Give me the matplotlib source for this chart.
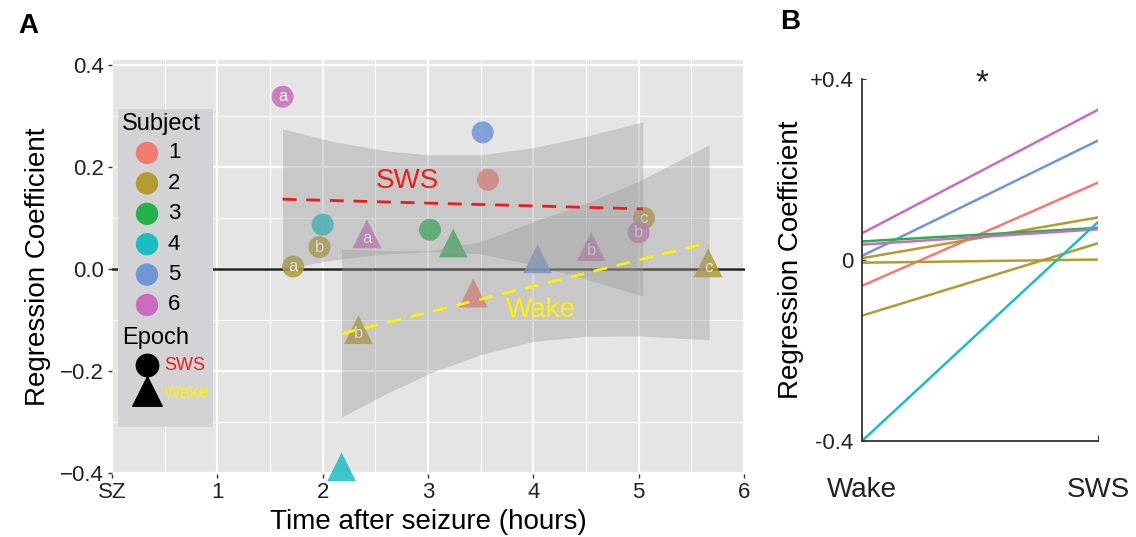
import numpy as np
import matplotlib.pyplot as plt
from matplotlib.patches import Rectangle

plt.rcParams['font.family'] = ['Liberation Sans', 'DejaVu Sans']

# subject colours, 1..6 (muted ggplot-like hues)
subj_colors = ["#F37A70", "#B39B30", "#25B24B", "#1CBDC2", "#6F96D5", "#C96CBE"]

# panel A, SWS epochs (circles)
sws_x = [1.62, 3.52, 3.57, 2.00, 1.97, 1.72, 3.02, 5.05, 5.00]
sws_y = [0.338, 0.268, 0.175, 0.087, 0.043, 0.005, 0.077, 0.100, 0.072]
sws_subj = [6, 5, 1, 4, 2, 2, 3, 2, 6]
sws_tag = ["a", "", "", "", "b", "a", "", "c", "b"]

# panel A, Wake epochs (triangles)
wake_x = [2.42, 3.24, 4.04, 4.55, 5.66, 3.43, 2.34, 2.18]
wake_y = [0.069, 0.051, 0.020, 0.044, 0.012, -0.047, -0.119, -0.388]
wake_subj = [6, 3, 5, 6, 2, 1, 2, 4]
wake_tag = ["a", "", "", "b", "c", "", "b", ""]

# regression fits and confidence bands
sws_fit_x = [1.62, 5.04]
sws_fit_y = [0.137, 0.118]
sws_band_x = [1.62, 2.1, 2.6, 3.0, 3.5, 4.0, 4.5, 5.04]
sws_band_hi = [0.275, 0.250, 0.232, 0.224, 0.224, 0.238, 0.260, 0.289]
sws_band_lo = [0.000, 0.018, 0.030, 0.034, 0.030, 0.008, -0.020, -0.053]

wake_fit_x = [2.18, 5.67]
wake_fit_y = [-0.127, 0.052]
wake_band_x = [2.18, 2.6, 3.02, 3.5, 4.0, 4.5, 5.0, 5.67]
wake_band_hi = [0.039, 0.036, 0.036, 0.054, 0.093, 0.129, 0.172, 0.244]
wake_band_lo = [-0.290, -0.245, -0.204, -0.168, -0.142, -0.132, -0.131, -0.139]

# panel B, paired wake / SWS coefficients
b_wake = [0.059, 0.009, -0.057, 0.004, 0.041, 0.034, -0.006, -0.123, -0.400]
b_sws = [0.332, 0.264, 0.171, 0.094, 0.071, 0.068, 0.001, 0.037, 0.084]
b_subj = [6, 5, 1, 2, 3, 6, 2, 2, 4]

x_ticklabels = ["SZ", "1", "2", "3", "4", "5", "6"]

fig = plt.figure(figsize=(11.36, 5.37), dpi=100)
W, H = 1136, 537

# ---------------- panel A ----------------
axA = fig.add_axes([112 / W, 1 - 474 / H, 633 / W, 414 / H])
axA.set_facecolor("#E5E5E5")
axA.set_xlim(0, 6.01)
axA.set_ylim(-0.402, 0.41)
axA.set_xticks(range(7))
axA.set_xticklabels(x_ticklabels)
axA.set_yticks([-0.4, -0.2, 0.0, 0.2, 0.4])
axA.set_yticklabels(["\u22120.4", "\u22120.2", "0.0", "0.2", "0.4"])
axA.set_xticks(np.arange(0.5, 6, 1), minor=True)
axA.set_yticks([-0.3, -0.1, 0.1, 0.3], minor=True)
axA.grid(True, which="major", color="white", lw=1.6)
axA.grid(True, which="minor", color="white", lw=0.8)
axA.set_axisbelow(True)
for s in axA.spines.values():
    s.set_visible(False)
axA.tick_params(which="major", length=3, width=1, color="#333333",
                labelsize=16, labelcolor="#222222", pad=3)
axA.tick_params(which="minor", length=0)
axA.set_xlabel("Time after seizure (hours)", fontsize=20, labelpad=4)
axA.set_ylabel("Regression Coefficient", fontsize=20, labelpad=6)

axA.axhline(0, color="#222222", lw=1.8, zorder=1.5)

axA.scatter(sws_x, sws_y, s=250, marker="o", c=[subj_colors[i - 1] for i in sws_subj],
            alpha=0.85, edgecolors="none", zorder=2)
axA.scatter(wake_x, wake_y, s=430, marker="^", c=[subj_colors[i - 1] for i in wake_subj],
            alpha=0.85, edgecolors="none", zorder=2, clip_on=False)
for x, y, t in zip(sws_x, sws_y, sws_tag):
    if t:
        axA.text(x, y, t, color="white", fontsize=12, ha="center", va="center", zorder=2.5)
for x, y, t in zip(wake_x, wake_y, wake_tag):
    if t:
        axA.annotate(t, (x, y), xytext=(0, -3), textcoords="offset points", color="white",
                     fontsize=12, ha="center", va="center", zorder=2.5)

axA.fill_between(sws_band_x, sws_band_lo, sws_band_hi, color="#999999", alpha=0.38,
                 lw=0, zorder=3)
axA.fill_between(wake_band_x, wake_band_lo, wake_band_hi, color="#999999", alpha=0.38,
                 lw=0, zorder=3)
axA.plot(sws_fit_x, sws_fit_y, color="#EE1C1C", lw=2, ls=(0, (5, 3.5)), zorder=4)
axA.plot(wake_fit_x, wake_fit_y, color="#FFF200", lw=2, ls=(0, (5, 3.5)), zorder=4)
axA.text(2.80, 0.172, "SWS", color="#EE1C1C", fontsize=20, ha="center", va="center", zorder=4)
axA.text(4.07, -0.081, "Wake", color="#FFF200", fontsize=20, ha="center", va="center", zorder=4)

# legend box drawn by hand (px -> axes fraction)
fx = lambda px: (px - 112) / 633
fy = lambda py: (474 - py) / 414
axA.add_patch(Rectangle((fx(118), fy(427)), fx(213) - fx(118), fy(109) - fy(427),
                        transform=axA.transAxes, facecolor="#D3D3D5", edgecolor="none",
                        zorder=5, clip_on=False))
axA.text(fx(122), fy(124), "Subject", transform=axA.transAxes, fontsize=17,
         ha="left", va="center", zorder=6)
for k in range(6):
    py = 153 + k * 30.4
    axA.scatter([fx(147)], [fy(py)], s=260, marker="o", color=subj_colors[k],
                transform=axA.transAxes, zorder=6, clip_on=False, edgecolors="none")
    axA.text(fx(168), fy(py), str(k + 1), transform=axA.transAxes, fontsize=16,
             ha="left", va="center", zorder=6)
axA.text(fx(122), fy(338), "Epoch", transform=axA.transAxes, fontsize=17,
         ha="left", va="center", zorder=6)
axA.scatter([fx(147)], [fy(365)], s=260, marker="o", color="black",
            transform=axA.transAxes, zorder=6, clip_on=False)
axA.scatter([fx(147)], [fy(391)], s=450, marker="^", color="black",
            transform=axA.transAxes, zorder=6, clip_on=False)
axA.text(fx(164), fy(365), "SWS", transform=axA.transAxes, fontsize=13, color="#EE1C1C",
         ha="left", va="center", zorder=6)
axA.text(fx(164), fy(393), "Wake", transform=axA.transAxes, fontsize=13, color="#FFF200",
         ha="left", va="center", zorder=6)

# ---------------- panel B ----------------
axB = fig.add_axes([862 / W, 1 - 441 / H, 236 / W, 362 / H])
for w, s, subj in zip(b_wake, b_sws, b_subj):
    axB.plot([0, 1], [w, s], color=subj_colors[subj - 1], lw=1.8)
axB.set_xlim(0, 1)
axB.set_ylim(-0.4, 0.4)
axB.spines["top"].set_visible(False)
axB.spines["right"].set_visible(False)
for side in ["left", "bottom"]:
    axB.spines[side].set_color("#333333")
    axB.spines[side].set_linewidth(1.3)
axB.set_yticks([-0.4, 0, 0.4])
axB.set_yticklabels(["-0.4", "0", "+0.4"])
axB.set_xticks([0, 1])
axB.set_xticklabels(["Wake", "SWS"])
axB.tick_params(axis="y", length=3, direction="in", labelsize=16, pad=6, color="#333333",
                labelcolor="#222222")
axB.tick_params(axis="x", length=4, direction="in", labelsize=20, pad=26, color="#333333",
                labelcolor="#222222")
axB.set_ylabel("Regression Coefficient", fontsize=20, labelpad=4)
axB.text(0.51, 0.39, "*", fontsize=24, ha="center", va="center", color="#222222")

fig.text(18 / W, 1 - 26 / H, "A", fontsize=20, fontweight="bold", ha="left", va="center")
fig.text(780 / W, 1 - 22 / H, "B", fontsize=20, fontweight="bold", ha="left", va="center")

fig.savefig("out.png", dpi=100)
